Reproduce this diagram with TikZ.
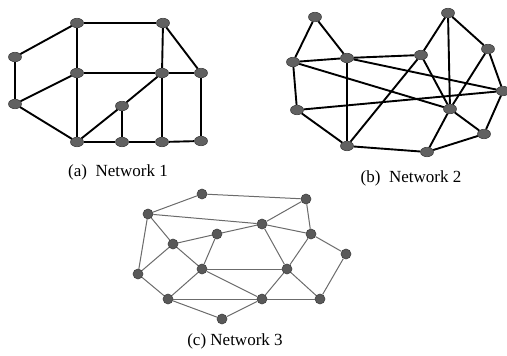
\documentclass[tikz,border=0pt]{standalone}
\usepackage{fontspec}
\setmainfont{Liberation Serif}
\usetikzlibrary{shapes.geometric}
\begin{document}
\begin{tikzpicture}[x=1pt,y=-1pt,
  nodeA/.style={ellipse,draw=black!75,line width=0.6pt,fill=black!62,minimum width=13pt,minimum height=9.5pt,inner sep=0pt},
  nodeC/.style={circle,draw=black!75,line width=0.6pt,fill=black!65,minimum size=10pt,inner sep=0pt},
  edgeA/.style={line width=1.9pt,black},
  edgeC/.style={line width=1pt,black!58},
  captext/.style={font=\fontsize{17}{20}\selectfont,inner sep=0pt}]
\useasboundingbox (0,0) rectangle (507,356);
% Network 1
\node[nodeA] (A) at (77,23) {};
\node[nodeA] (B) at (163,23) {};
\node[nodeA] (C) at (15,57) {};
\node[nodeA] (D) at (77,73) {};
\node[nodeA] (E) at (162,73) {};
\node[nodeA] (F) at (201,73) {};
\node[nodeA] (G) at (15,104) {};
\node[nodeA] (H) at (122,106) {};
\node[nodeA] (I) at (77,142) {};
\node[nodeA] (J) at (122,142) {};
\node[nodeA] (K) at (162,142) {};
\node[nodeA] (L) at (201,141) {};
\foreach \u/\v in {A/B,A/C,A/D,B/E,B/F,C/G,D/E,E/F,D/G,D/I,G/I,I/H,H/E,H/J,E/K,F/L,I/J,J/K,K/L}
  \draw[edgeA] (\u) -- (\v);
% Network 2
\node[nodeA] (a) at (315,17) {};
\node[nodeA] (b) at (448,13) {};
\node[nodeA] (c) at (293,62) {};
\node[nodeA] (d) at (347,58) {};
\node[nodeA] (e) at (421,55) {};
\node[nodeA] (f) at (488,49) {};
\node[nodeA] (g) at (503,91) {};
\node[nodeA] (h) at (297,110) {};
\node[nodeA] (i) at (450,109) {};
\node[nodeA] (j) at (484,134) {};
\node[nodeA] (k) at (347,146) {};
\node[nodeA] (l) at (427,152) {};
\foreach \u/\v in {a/c,a/d,c/d,d/e,c/h,d/k,c/i,d/g,h/g,e/b,b/i,b/f,f/g,e/i,e/k,f/i,i/l,i/j,j/g,l/j,k/l,h/k}
  \draw[edgeA] (\u) -- (\v);
% Network 3
\node[nodeC] (n1) at (202,194) {};
\node[nodeC] (n2) at (306,199) {};
\node[nodeC] (n3) at (148,214) {};
\node[nodeC] (n4) at (262,224) {};
\node[nodeC] (n5) at (217,234) {};
\node[nodeC] (n6) at (311,234) {};
\node[nodeC] (n7) at (173,244) {};
\node[nodeC] (n8) at (346,254) {};
\node[nodeC] (n9) at (138,274) {};
\node[nodeC] (n10) at (202,269) {};
\node[nodeC] (n11) at (287,269) {};
\node[nodeC] (n12) at (168,299) {};
\node[nodeC] (n13) at (262,299) {};
\node[nodeC] (n14) at (320,299) {};
\node[nodeC] (n15) at (222,319) {};
\foreach \u/\v in {n3/n1,n1/n2,n3/n4,n2/n4,n2/n6,n4/n6,n4/n5,n5/n7,n3/n7,n3/n9,n7/n9,n7/n10,n5/n10,n4/n11,n6/n11,n6/n8,n8/n14,n10/n11,n10/n13,n11/n13,n11/n14,n9/n12,n10/n12,n12/n13,n12/n15,n15/n13,n13/n14}
  \draw[edgeC] (\u) -- (\v);
% captions
\node[captext] (capa) at (118,172) {(a)\ \ Network 1};
\node[captext] (capb) at (411,178) {(b)\ \ Network 2};
\node[captext] (capc) at (235,341) {(c) Network 3};
\end{tikzpicture}
\end{document}
